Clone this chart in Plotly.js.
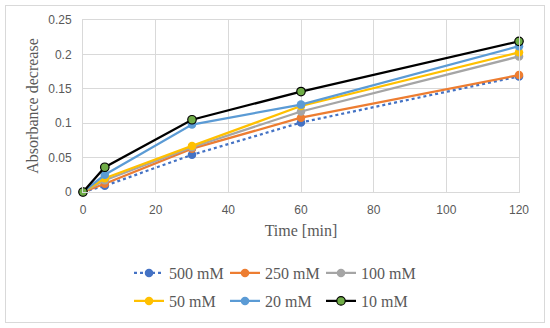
<!DOCTYPE html>
<html><head><meta charset="utf-8">
<script src="https://cdn.plot.ly/plotly-3.0.1.min.js"></script>
<style>
html,body{margin:0;padding:0;background:#fff;}
#wrap{position:relative;width:550px;height:328px;}
#chart{position:absolute;left:0;top:0;width:550px;height:328px;}
#frame{position:absolute;left:5px;top:5px;width:538px;height:316px;border:1px solid #d9d9d9;pointer-events:none;}
</style></head>
<body>
<div id="wrap"><div id="chart"></div><div id="frame"></div></div>
<script>
const time = [0, 6, 30, 60, 120];
const names = ['500 mM', '250 mM', '100 mM', '50 mM', '20 mM', '10 mM'];
const s500 = [0, 0.009, 0.054, 0.101, 0.168];
const s250 = [0, 0.012, 0.063, 0.108, 0.170];
const s100 = [0, 0.017, 0.065, 0.117, 0.197];
const s50  = [0, 0.020, 0.067, 0.125, 0.203];
const s20  = [0, 0.025, 0.098, 0.127, 0.212];
const s10  = [0, 0.036, 0.105, 0.146, 0.219];
const xTicks = [0, 20, 40, 60, 80, 100, 120];
const yTicks = [0, 0.05, 0.1, 0.15, 0.2, 0.25];
const yTickText = ['0', '0.05', '0.1', '0.15', '0.2', '0.25'];

const series = [s500, s250, s100, s50, s20, s10];
const colors = ['#4472C4', '#ED7D31', '#A5A5A5', '#FFC000', '#5B9BD5', '#000000'];
const markerColors = ['#4472C4', '#ED7D31', '#A5A5A5', '#FFC000', '#5B9BD5', '#70AD47'];
const legends = ['legend', 'legend', 'legend', 'legend2', 'legend2', 'legend2'];

const traces = series.map((s, i) => ({
  x: time, y: s, name: names[i], type: 'scatter', mode: 'lines+markers',
  cliponaxis: false, legend: legends[i],
  line: {color: colors[i], width: 2.25, dash: i === 0 ? 'dot' : 'solid'},
  marker: {color: markerColors[i], size: 8.5,
           line: {color: i === 5 ? '#000000' : markerColors[i], width: i === 5 ? 1.2 : 0}}
}));

const legFont = {family: 'Liberation Serif, serif', size: 16, color: '#595959'};
const legBase = {orientation: 'h', xref: 'container', yref: 'container', xanchor: 'left', yanchor: 'middle',
                 entrywidth: 51, entrywidthmode: 'pixels', font: legFont, bgcolor: 'rgba(0,0,0,0)',
                 traceorder: 'normal', borderwidth: 0};
const layout = {
  width: 550, height: 328,
  margin: {l: 83, r: 31, t: 20, b: 136, autoexpand: false},
  paper_bgcolor: '#ffffff', plot_bgcolor: '#ffffff',
  showlegend: true,
  xaxis: {range: [0, 120], tickvals: xTicks, ticktext: xTicks.map(String),
          showgrid: true, gridcolor: '#d9d9d9', gridwidth: 1, zeroline: false,
          showline: true, mirror: true, linecolor: '#d9d9d9', linewidth: 1, ticks: '',
          ticklabelstandoff: 7,
          tickfont: {family: 'Liberation Sans, sans-serif', size: 12, color: '#595959'},
          title: {text: 'Time [min]', standoff: 8,
                  font: {family: 'Liberation Serif, serif', size: 16, color: '#595959'}}},
  yaxis: {range: [0, 0.25], tickvals: yTicks, ticktext: yTickText,
          showgrid: true, gridcolor: '#d9d9d9', gridwidth: 1, zeroline: false,
          showline: true, mirror: true, linecolor: '#d9d9d9', linewidth: 1, ticks: '',
          ticklabelstandoff: 8,
          tickfont: {family: 'Liberation Sans, sans-serif', size: 12, color: '#595959'},
          title: {text: 'Absorbance decrease', standoff: 5,
                  font: {family: 'Liberation Serif, serif', size: 16, color: '#595959'}}},
  legend: Object.assign({}, legBase, {x: 129 / 550, y: 1 - 273 / 328}),
  legend2: Object.assign({}, legBase, {x: 129 / 550, y: 1 - 301 / 328})
};
Plotly.newPlot('chart', traces, layout, {displayModeBar: false, staticPlot: true});
</script>
</body></html>
